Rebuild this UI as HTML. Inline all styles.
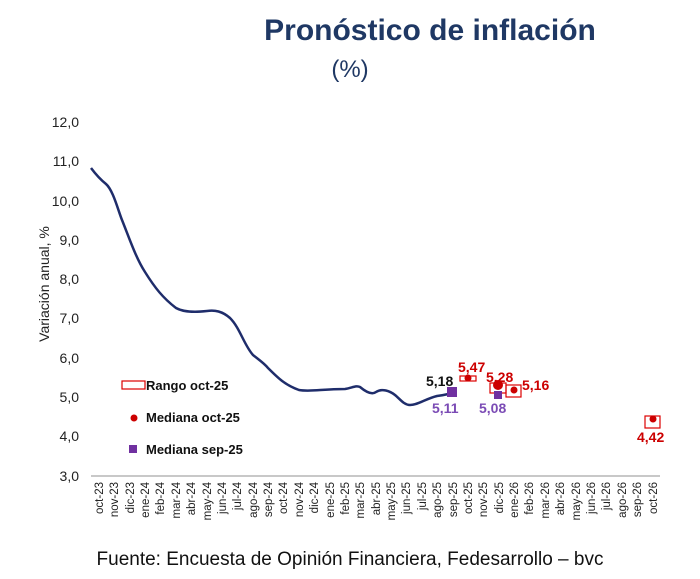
<!DOCTYPE html>
<html><head><meta charset="utf-8"><style>
body{margin:0;background:#fff;}
svg text{font-family:"Liberation Sans",Arial,sans-serif;}
</style></head><body>
<svg width="700" height="574" viewBox="0 0 700 574" xmlns="http://www.w3.org/2000/svg">
<text x="430" y="40" text-anchor="middle" font-size="30" font-weight="bold" fill="#1f3864">Pronóstico de inflación</text>
<text x="350" y="77" text-anchor="middle" font-size="24" fill="#1f3864">(%)</text>
<g font-size="14" fill="#222" text-anchor="end">
<text x="79" y="127">12,0</text><text x="79" y="166">11,0</text><text x="79" y="206">10,0</text>
<text x="79" y="245">9,0</text><text x="79" y="284">8,0</text><text x="79" y="323">7,0</text>
<text x="79" y="363">6,0</text><text x="79" y="402">5,0</text><text x="79" y="441">4,0</text>
<text x="79" y="481">3,0</text>
</g>
<text transform="translate(49,284) rotate(-90)" text-anchor="middle" font-size="14" fill="#222">Variación anual, %</text>
<line x1="91" y1="476" x2="660" y2="476" stroke="#c8c8c8" stroke-width="2"/>
<g font-size="11.5" fill="#222" text-anchor="end" id="xl"></g>
<path d="M91,168 C97,176 101,180 106,184 C113,190 118,210 122,220 C130,240 136,258 145,272 C155,288 163,298 176,308 C185,313 198,312 207,311 C215,310 222,311 230,318 C240,328 244,345 253,355 C262,362 265,364 268,368 C278,378 285,385 299,390 C310,392 322,389 345,389 C352,388 356,385 360,387 C366,392 372,395 376,392 C382,388 390,391 395,395 C400,399 404,405 410,405 C418,405 425,399 437,396 C445,395 448,394 453,393" fill="none" stroke="#1f2d6b" stroke-width="2.5"/>
<g stroke="#d00" fill="none" stroke-width="1.2">
<rect x="460" y="376" width="16" height="5"/>
<rect x="490" y="383" width="16" height="10"/>
<rect x="506" y="385" width="15" height="12"/>
<rect x="645" y="416" width="15" height="12"/>
</g>
<g fill="#c00">
<circle cx="468" cy="378" r="3.5"/>
<circle cx="498" cy="385" r="5"/>
<circle cx="514" cy="390" r="3.5"/>
<circle cx="653" cy="419" r="3.5"/>
</g>
<g fill="#7030a0">
<rect x="447" y="387" width="10" height="10"/>
<rect x="494" y="391" width="8" height="8"/>
</g>
<g font-size="14" font-weight="bold">
<text x="426" y="386" fill="#111">5,18</text>
<text x="432" y="413" fill="#7b4bb5">5,11</text>
<text x="479" y="413" fill="#7b4bb5">5,08</text>
<text x="458" y="372" fill="#c00">5,47</text>
<text x="486" y="382" fill="#c00">5,28</text>
<text x="522" y="390" fill="#c00">5,16</text>
<text x="637" y="442" fill="#c00">4,42</text>
</g>
<rect x="122" y="381" width="23" height="8" fill="none" stroke="#d00" stroke-width="1.2"/>
<text x="146" y="390" font-size="13" font-weight="bold" fill="#111">Rango oct-25</text>
<circle cx="134" cy="418" r="3.5" fill="#c00"/>
<text x="146" y="422" font-size="13" font-weight="bold" fill="#111">Mediana oct-25</text>
<rect x="129" y="445" width="8" height="8" fill="#7030a0"/>
<text x="146" y="454" font-size="13" font-weight="bold" fill="#111">Mediana sep-25</text>
<text x="350" y="565" text-anchor="middle" font-size="19" fill="#111">Fuente: Encuesta de Opinión Financiera, Fedesarrollo – bvc</text>
<g font-size="11.5" fill="#222" text-anchor="end">
<text transform="translate(103,482) rotate(-90)">oct-23</text>
<text transform="translate(118,482) rotate(-90)">nov-23</text>
<text transform="translate(134,482) rotate(-90)">dic-23</text>
<text transform="translate(149,482) rotate(-90)">ene-24</text>
<text transform="translate(164,482) rotate(-90)">feb-24</text>
<text transform="translate(180,482) rotate(-90)">mar-24</text>
<text transform="translate(195,482) rotate(-90)">abr-24</text>
<text transform="translate(211,482) rotate(-90)">may-24</text>
<text transform="translate(226,482) rotate(-90)">jun-24</text>
<text transform="translate(241,482) rotate(-90)">jul-24</text>
<text transform="translate(257,482) rotate(-90)">ago-24</text>
<text transform="translate(272,482) rotate(-90)">sep-24</text>
<text transform="translate(287,482) rotate(-90)">oct-24</text>
<text transform="translate(303,482) rotate(-90)">nov-24</text>
<text transform="translate(318,482) rotate(-90)">dic-24</text>
<text transform="translate(334,482) rotate(-90)">ene-25</text>
<text transform="translate(349,482) rotate(-90)">feb-25</text>
<text transform="translate(364,482) rotate(-90)">mar-25</text>
<text transform="translate(380,482) rotate(-90)">abr-25</text>
<text transform="translate(395,482) rotate(-90)">may-25</text>
<text transform="translate(410,482) rotate(-90)">jun-25</text>
<text transform="translate(426,482) rotate(-90)">jul-25</text>
<text transform="translate(441,482) rotate(-90)">ago-25</text>
<text transform="translate(457,482) rotate(-90)">sep-25</text>
<text transform="translate(472,482) rotate(-90)">oct-25</text>
<text transform="translate(487,482) rotate(-90)">nov-25</text>
<text transform="translate(503,482) rotate(-90)">dic-25</text>
<text transform="translate(518,482) rotate(-90)">ene-26</text>
<text transform="translate(533,482) rotate(-90)">feb-26</text>
<text transform="translate(549,482) rotate(-90)">mar-26</text>
<text transform="translate(564,482) rotate(-90)">abr-26</text>
<text transform="translate(580,482) rotate(-90)">may-26</text>
<text transform="translate(595,482) rotate(-90)">jun-26</text>
<text transform="translate(610,482) rotate(-90)">jul-26</text>
<text transform="translate(626,482) rotate(-90)">ago-26</text>
<text transform="translate(641,482) rotate(-90)">sep-26</text>
<text transform="translate(657,482) rotate(-90)">oct-26</text>
</g>
</svg>
</body></html>
